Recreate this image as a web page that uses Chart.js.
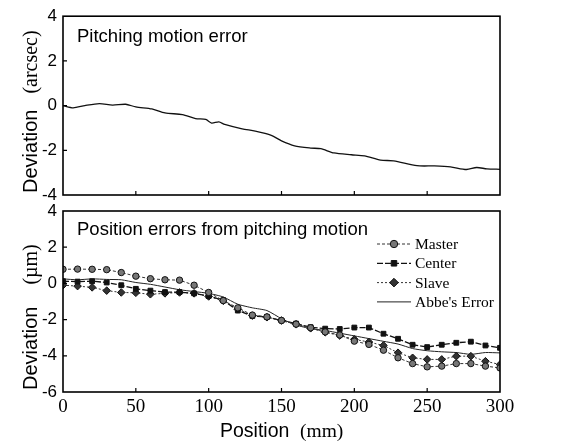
<!DOCTYPE html>
<html><head><meta charset="utf-8">
<script src="https://cdn.jsdelivr.net/npm/chart.js@4/dist/chart.umd.min.js"></script>
<style>
html,body{margin:0;padding:0;background:#fff;}
#wrap{position:relative;width:561px;height:444px;overflow:hidden;}
canvas{position:absolute;left:0;top:0;}
</style></head><body>
<div id="wrap"><canvas id="c1" width="561" height="444"></canvas><canvas id="c2" width="561" height="444"></canvas></div>
<script>
// ---- data ----
const xTicks = [0, 50, 100, 150, 200, 250, 300];
const topYTicks = [-4, -2, 0, 2, 4];
const bottomYTicks = [-6, -4, -2, 0, 2, 4];

const pitchX = [0,7,15,25,34,43,50,61,70,82,91,98,102,107,111,123,132,143,150,159,170,177,186,198,207,218,227,243,255,266,277,284,291,300];
const pitchArcsec = [0,-0.1,0,0.09,0.02,0.06,-0.06,-0.15,-0.33,-0.4,-0.58,-0.62,-0.78,-0.73,-0.84,-1.04,-1.14,-1.33,-1.58,-1.8,-1.9,-1.93,-2.12,-2.2,-2.25,-2.44,-2.47,-2.69,-2.7,-2.74,-2.86,-2.77,-2.83,-2.85];

const positionsMm = [0,10,20,30,40,50,60,70,80,90,100,110,120,130,140,150,160,170,180,190,200,210,220,230,240,250,260,270,280,290,300];
const master = [0.78,0.79,0.78,0.76,0.6,0.4,0.26,0.2,0.18,-0.1,-0.5,-0.95,-1.35,-1.75,-1.85,-2.05,-2.25,-2.45,-2.68,-2.85,-3.19,-3.37,-3.69,-4.11,-4.43,-4.61,-4.57,-4.43,-4.43,-4.57,-4.67];
const center = [0.12,0.1,0.12,0.05,-0.1,-0.3,-0.4,-0.48,-0.48,-0.55,-0.7,-0.93,-1.5,-1.8,-1.85,-2.05,-2.22,-2.42,-2.5,-2.52,-2.44,-2.44,-2.78,-3.06,-3.39,-3.52,-3.39,-3.28,-3.22,-3.43,-3.56];
const slave = [-0.1,-0.15,-0.22,-0.4,-0.5,-0.52,-0.6,-0.55,-0.5,-0.55,-0.72,-0.96,-1.43,-1.78,-1.87,-2.05,-2.26,-2.48,-2.7,-2.88,-3.09,-3.24,-3.43,-3.83,-4.11,-4.2,-4.2,-4.02,-4.02,-4.3,-4.48];
const abbeError = [0.25,0.2,0.25,0.22,0.2,0.05,-0.05,-0.2,-0.35,-0.45,-0.55,-0.75,-1.15,-1.35,-1.5,-1.95,-2.3,-2.5,-2.6,-2.75,-2.9,-3.05,-3.2,-3.35,-3.6,-3.72,-3.78,-3.82,-3.92,-3.82,-3.84];

const seriesNames = ['Master', 'Center', 'Slave', "Abbe's Error"];

// ---- helpers ----
const SANS = '"Liberation Sans", Arial, sans-serif';
const SERIF = '"Liberation Serif", "Times New Roman", serif';
const pts = (xs, ys) => xs.map((x, i) => ({x, y: ys[i]}));
const setTicks = arr => s => { s.ticks = arr.map(v => ({value: v})); };

function framePlugin(opts) {
  return {
    id: 'frame' + opts.id,
    afterDraw(chart) {
      const ctx = chart.ctx, a = chart.chartArea;
      const xs = chart.scales.x, ys = chart.scales.y;
      ctx.save();
      ctx.strokeStyle = '#000';
      ctx.lineWidth = 1.6;
      ctx.strokeRect(a.left, a.top, a.right - a.left, a.bottom - a.top);
      ctx.lineWidth = 1.2;
      ctx.beginPath();
      xs.ticks.forEach(t => {
        const px = xs.getPixelForValue(t.value);
        if (px <= a.left + 1 || px >= a.right - 1) return;
        ctx.moveTo(px, a.bottom); ctx.lineTo(px, a.bottom - 4);
      });
      ys.ticks.forEach(t => {
        const py = ys.getPixelForValue(t.value);
        if (py <= a.top + 1 || py >= a.bottom - 1) return;
        ctx.moveTo(a.left, py); ctx.lineTo(a.left + 4, py);
      });
      ctx.stroke();
      // panel title
      ctx.fillStyle = '#000';
      ctx.font = '18.5px ' + SANS;
      ctx.textBaseline = 'alphabetic';
      ctx.textAlign = 'left';
      ctx.fillText(opts.title, a.left + 14, a.top + opts.titleDy);
      // y axis title (mixed fonts), rotated
      ctx.translate(37, opts.yTitleBottom);
      ctx.rotate(-Math.PI / 2);
      ctx.font = '20px ' + SANS;
      ctx.fillText('Deviation', 0, 0);
      const w1 = ctx.measureText('Deviation').width;
      ctx.font = '20px ' + SERIF;
      ctx.fillText(opts.unit, w1 + opts.unitGap, 0);
      ctx.restore();
      if (opts.legend) drawLegend(chart);
      if (opts.xTitle) {
        ctx.save();
        ctx.fillStyle = '#000';
        ctx.textBaseline = 'alphabetic';
        ctx.font = '19.5px ' + SANS;
        ctx.fillText('Position', 220, 437);
        ctx.font = '19.5px ' + SERIF;
        ctx.fillText('(mm)', 300, 437);
        ctx.restore();
      }
    }
  };
}

function drawLegend(chart) {
  const ctx = chart.ctx;
  ctx.save();
  chart.data.datasets.forEach((ds, i) => {
    const y = 244 + i * 19.3;
    ctx.strokeStyle = ds.borderColor;
    ctx.lineWidth = ds.borderWidth;
    ctx.setLineDash(ds.borderDash || []);
    ctx.beginPath(); ctx.moveTo(377, y); ctx.lineTo(411, y); ctx.stroke();
    ctx.setLineDash([]);
    if (ds.pointRadius > 0 && Chart.helpers && Chart.helpers.drawPoint) {
      ctx.fillStyle = ds.pointBackgroundColor;
      ctx.strokeStyle = ds.pointBorderColor;
      ctx.lineWidth = ds.pointBorderWidth;
      Chart.helpers.drawPoint(ctx, {pointStyle: ds.pointStyle, radius: ds.pointRadius + 0.5, rotation: 0, borderWidth: ds.pointBorderWidth}, 394, y);
    }
    ctx.fillStyle = '#000';
    ctx.font = '15.5px ' + SERIF;
    ctx.textBaseline = 'middle';
    ctx.textAlign = 'left';
    ctx.fillText(ds.label, 415, y + 1);
  });
  ctx.restore();
}

Chart.defaults.animation = false;
Chart.defaults.color = '#000';

const yAxisBase = (min, max, arr) => ({
  type: 'linear', min, max,
  afterBuildTicks: setTicks(arr),
  afterFit: s => { s.width = 63; },
  grid: {display: false, drawTicks: false},
  border: {display: false},
  ticks: {font: {family: SANS, size: 17}, color: '#000', padding: 6, callback: v => String(v)}
});

// ---- top chart ----
new Chart(document.getElementById('c1'), {
  type: 'scatter',
  data: {datasets: [{
    label: 'Pitching motion error',
    data: pts(pitchX, pitchArcsec),
    showLine: true, borderColor: '#111', borderWidth: 1.3, pointRadius: 0, tension: 0.25
  }]},
  options: {
    responsive: false, devicePixelRatio: 1,
    layout: {padding: {top: 15, bottom: 249, left: 0, right: 61}},
    plugins: {legend: {display: false}, tooltip: {enabled: false}},
    scales: {
      x: {type: 'linear', min: 0, max: 300, afterBuildTicks: setTicks(xTicks),
          afterFit: s => { s.height = 0; },
          grid: {display: false, drawTicks: false}, border: {display: false},
          ticks: {display: false}},
      y: yAxisBase(-4, 4, topYTicks)
    }
  },
  plugins: [framePlugin({id: 1, title: 'Pitching motion error', titleDy: 26, yTitleBottom: 193, unit: '(arcsec)', unitGap: 16})]
});

// ---- bottom chart ----
new Chart(document.getElementById('c2'), {
  type: 'scatter',
  data: {datasets: [
    {label: seriesNames[0], data: pts(positionsMm, master), showLine: true,
     borderColor: '#333', borderWidth: 1, borderDash: [3, 2],
     pointStyle: 'circle', pointRadius: 3.2, pointBackgroundColor: '#777', pointBorderColor: '#111', pointBorderWidth: 1},
    {label: seriesNames[1], data: pts(positionsMm, center), showLine: true,
     borderColor: '#111', borderWidth: 1.3, borderDash: [6, 2],
     pointStyle: 'rect', pointRadius: 3.4, pointBackgroundColor: '#111', pointBorderColor: '#111', pointBorderWidth: 1},
    {label: seriesNames[2], data: pts(positionsMm, slave), showLine: true,
     borderColor: '#333', borderWidth: 1, borderDash: [2, 2],
     pointStyle: 'rectRot', pointRadius: 3.8, pointBackgroundColor: '#333', pointBorderColor: '#111', pointBorderWidth: 1},
    {label: seriesNames[3], data: pts(positionsMm, abbeError), showLine: true,
     borderColor: '#222', borderWidth: 1, pointRadius: 0, pointBorderWidth: 0, tension: 0.2}
  ]},
  options: {
    responsive: false, devicePixelRatio: 1,
    layout: {padding: {top: 211, bottom: 0, left: 0, right: 61}},
    plugins: {legend: {display: false}, tooltip: {enabled: false}},
    scales: {
      x: {type: 'linear', min: 0, max: 300, afterBuildTicks: setTicks(xTicks),
          afterFit: s => { s.height = 52; },
          grid: {display: false, drawTicks: false}, border: {display: false},
          ticks: {font: {family: SERIF, size: 19}, color: '#000', padding: 4, maxRotation: 0}},
      y: yAxisBase(-6, 4, bottomYTicks)
    }
  },
  plugins: [framePlugin({id: 2, title: 'Position errors from pitching motion', titleDy: 24, yTitleBottom: 390, unit: '(\u00b5m)', unitGap: 22, legend: true, xTitle: true})]
});
</script>
</body></html>
